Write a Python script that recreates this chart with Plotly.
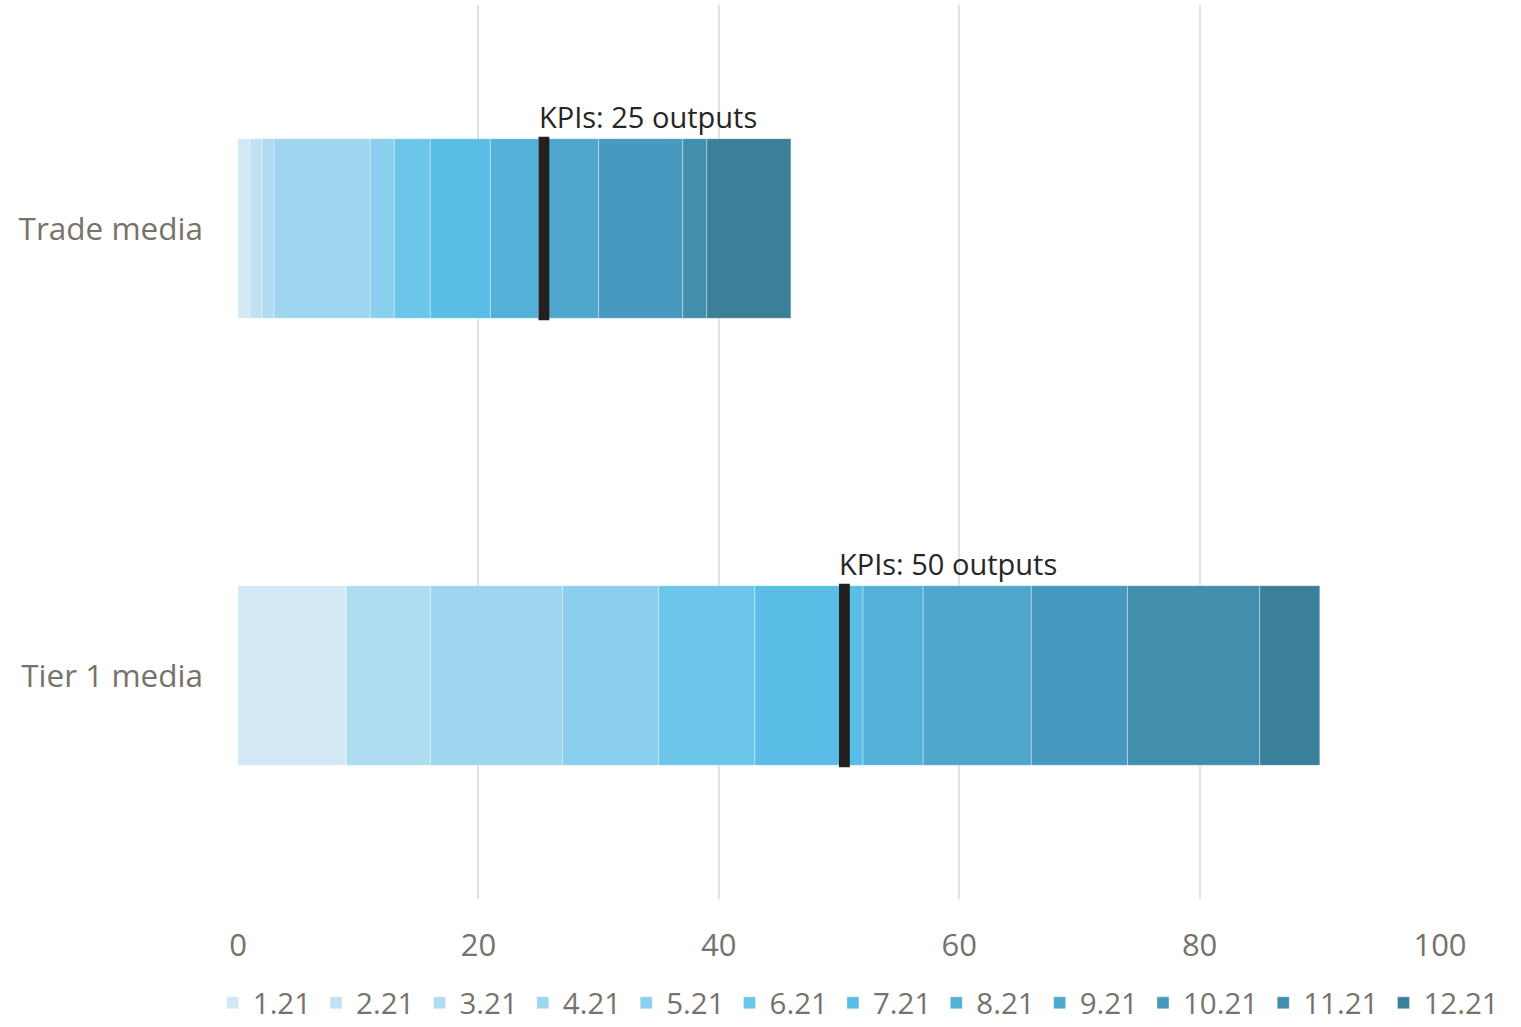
import numpy as np
import plotly.graph_objects as go

# Media categories (top to bottom)
categories = ["Trade media", "Tier 1 media"]

# Monthly series (month.year labels)
series_names = ["1.21", "2.21", "3.21", "4.21", "5.21", "6.21",
                "7.21", "8.21", "9.21", "10.21", "11.21", "12.21"]

# Outputs per month for each category
trade_values = [1, 1, 1, 8, 2, 3, 5, 4, 5, 7, 2, 7]
tier1_values = [9, 0, 7, 11, 8, 8, 9, 5, 9, 8, 11, 5]

# KPI targets per category
kpi_targets = [25, 50]
kpi_labels = ["KPIs: 25 outputs", "KPIs: 50 outputs"]

series_colors = ["#d2e8f5", "#c2e2f4", "#b0dcf2", "#9ed5ef", "#8acfee", "#6cc6ea",
                 "#5abde5", "#53b1d8", "#4fa8cc", "#4899c0", "#418ead", "#3a8098"]

FONT = "Open Sans"
GREY = "#77726b"

values = np.array([trade_values, tier1_values], dtype=float)  # shape (cat, series)
bases = np.hstack([np.zeros((2, 1)), np.cumsum(values, axis=1)[:, :-1]])

fig = go.Figure()

for i, name in enumerate(series_names):
    fig.add_trace(go.Bar(
        name=name,
        y=categories,
        x=values[:, i],
        base=bases[:, i],
        orientation="h",
        width=0.402,
        marker=dict(color=series_colors[i],
                    line=dict(color="rgba(255,255,255,0.35)", width=1)),
        hoverinfo="skip",
    ))

# KPI target markers
fig.add_trace(go.Bar(
    y=categories,
    x=[0.9, 0.9],
    base=kpi_targets,
    orientation="h",
    width=0.41,
    marker=dict(color="#222120", line=dict(width=0)),
    showlegend=False,
    hoverinfo="skip",
))

for cat, target, label in zip(categories, kpi_targets, kpi_labels):
    fig.add_annotation(
        x=target, y=cat, text=label, showarrow=False,
        xanchor="left", yanchor="bottom", yshift=91, xshift=-2,
        font=dict(family=FONT, size=29, color="#262626"),
    )

fig.update_layout(
    barmode="overlay",
    width=1521, height=1027,
    margin=dict(l=238, r=81, t=5, b=128, autoexpand=False),
    plot_bgcolor="white", paper_bgcolor="white",
    font=dict(family=FONT, size=31, color=GREY),
    legend=dict(
        orientation="h", x=-0.021, xanchor="left",
        y=-0.1165, yanchor="middle",
        font=dict(family=FONT, size=29.5, color=GREY),
        traceorder="normal", itemclick=False,
    ),
    xaxis=dict(
        range=[0, 100], tickvals=[0, 20, 40, 60, 80, 100],
        showgrid=True, gridcolor="#e2e2e2", gridwidth=2,
        zeroline=False, showline=False,
        ticks="outside", ticklen=19, tickcolor="rgba(0,0,0,0)",
        tickfont=dict(family=FONT, size=31, color=GREY),
    ),
    yaxis=dict(
        categoryorder="array", categoryarray=categories[::-1],
        range=[-0.5, 1.5],
        showgrid=False, zeroline=False, showline=False,
        ticklabelstandoff=34,
        tickfont=dict(family=FONT, size=31.5, color=GREY),
    ),
)

fig.write_html("out.html")
